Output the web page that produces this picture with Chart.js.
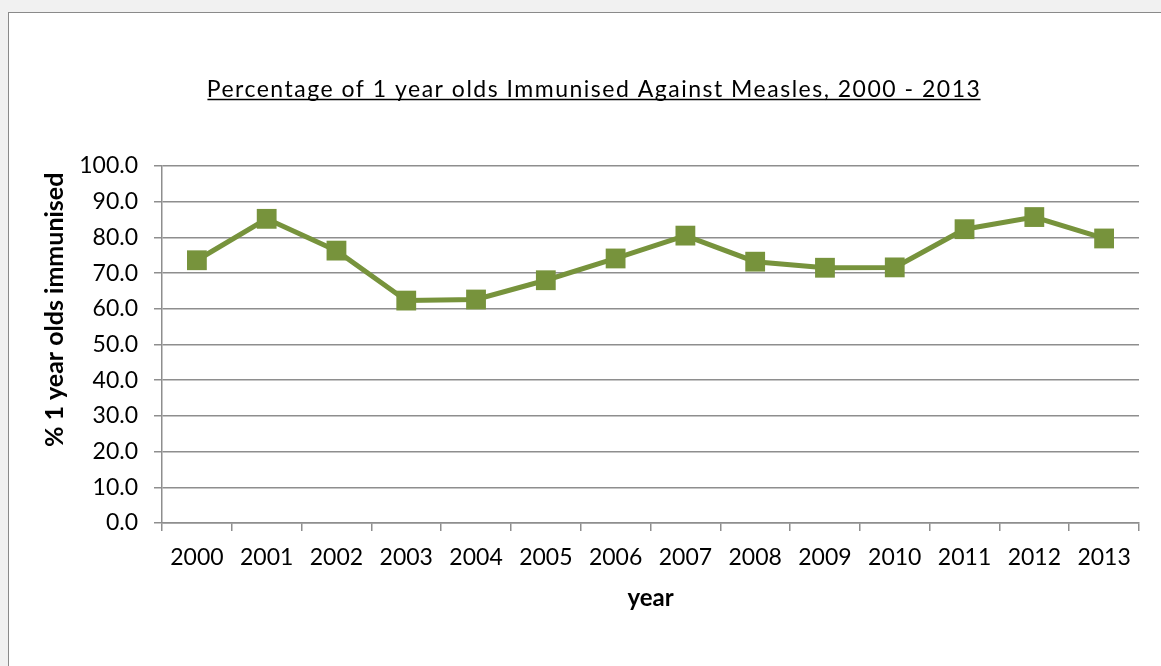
<!DOCTYPE html>
<html>
<head>
<meta charset="utf-8">
<script src="https://cdn.jsdelivr.net/npm/chart.js@4/dist/chart.umd.min.js"></script>
<style>
  html, body { margin: 0; padding: 0; width: 1161px; height: 666px; overflow: hidden; background: #f1f1f1; }
  #card { position: absolute; left: 8px; top: 12px; width: 1200px; height: 700px; background: #fff; border: 1px solid #8a8a8a; box-sizing: border-box; }
  #chart { position: absolute; left: 0; top: 0; }
</style>
</head>
<body>
<div id="card"></div>
<canvas id="chart" width="1188" height="666"></canvas>
<script>
// Measles immunisation coverage among 1 year olds
const years = ['2000', '2001', '2002', '2003', '2004', '2005', '2006', '2007', '2008', '2009', '2010', '2011', '2012', '2013'];
const immunised = [73.6, 85.2, 76.3, 62.3, 62.6, 68.0, 74.1, 80.5, 73.2, 71.5, 71.6, 82.3, 85.7, 79.7];
const chartTitle = 'Percentage of 1 year olds Immunised Against Measles, 2000 - 2013';
const yTitle = '% 1 year olds immunised';
const xTitle = 'year';

const FONT = 'Lato, "Open Sans", sans-serif';
const GREEN = '#77933c';
const GRID = '#8e8e8e';
const TITLE_SPACING = '1.5px';

// Loosely tracked, underlined chart title
const titleStyle = {
  id: 'titleStyle',
  afterLayout(chart) {
    const tb = chart.titleBlock;
    if (!tb || tb._tracked) return;
    const draw = tb.draw;
    tb.draw = function () {
      const ctx = this.ctx;
      const prev = ctx.letterSpacing;
      ctx.letterSpacing = TITLE_SPACING;
      draw.apply(this, arguments);
      ctx.letterSpacing = prev || '0px';
    };
    tb._tracked = true;
  },
  afterDraw(chart) {
    const tb = chart.titleBlock;
    if (!tb) return;
    const opts = chart.options.plugins.title;
    const font = Chart.helpers.toFont(opts.font);
    const pad = Chart.helpers.toPadding(opts.padding);
    const ctx = chart.ctx;
    ctx.save();
    ctx.font = font.string;
    ctx.textBaseline = 'middle';
    ctx.letterSpacing = TITLE_SPACING;
    const w = ctx.measureText(opts.text).width - parseFloat(TITLE_SPACING);
    const base = ctx.measureText('H').actualBoundingBoxDescent;
    const cx = (tb.left + tb.right) / 2;
    const cy = tb.top + pad.top + font.lineHeight / 2;
    const y = Math.round(cy + base + 2) + 0.5;
    ctx.strokeStyle = '#000';
    ctx.lineWidth = 1.4;
    ctx.beginPath();
    ctx.moveTo(cx - w / 2, y);
    ctx.lineTo(cx + w / 2, y);
    ctx.stroke();
    ctx.restore();
  }
};

// Rotated title for the value axis
const yAxisTitle = {
  id: 'yAxisTitle',
  afterDraw(chart, args, opts) {
    const { ctx, chartArea } = chart;
    ctx.save();
    ctx.translate(opts.x, chartArea.top + (chartArea.bottom - chartArea.top) * opts.pos);
    ctx.rotate(-Math.PI / 2);
    ctx.font = Chart.helpers.toFont(opts.font).string;
    ctx.fillStyle = opts.color;
    ctx.textAlign = 'center';
    ctx.textBaseline = 'middle';
    ctx.fillText(opts.text, 0, 0);
    ctx.restore();
  }
};

new Chart(document.getElementById('chart'), {
  type: 'line',
  data: {
    labels: years,
    datasets: [{
      data: immunised,
      borderColor: GREEN,
      backgroundColor: GREEN,
      borderWidth: 5,
      tension: 0,
      pointStyle: 'rect',
      pointRadius: 14,
      pointHoverRadius: 14,
      pointBackgroundColor: GREEN,
      pointBorderColor: GREEN,
      pointBorderWidth: 0
    }]
  },
  options: {
    responsive: false,
    animation: false,
    layout: { padding: { left: 49, right: 49, top: 0, bottom: 0 } },
    plugins: {
      legend: { display: false },
      tooltip: { enabled: false },
      title: {
        display: true,
        text: chartTitle,
        color: '#000',
        font: { family: FONT, size: 23, weight: 'normal', lineHeight: 1.2 },
        padding: { top: 76, bottom: 62.4 }
      },
      yAxisTitle: {
        text: yTitle,
        x: 55,
        pos: 0.403,
        color: '#000',
        font: { family: FONT, size: 25, weight: 'bold' }
      }
    },
    scales: {
      x: {
        offset: true,
        afterFit(scale) { scale.height = 143; },
        grid: {
          offset: true,
          drawOnChartArea: false,
          drawTicks: true,
          tickLength: 8,
          color: GRID,
          lineWidth: 1.5
        },
        border: { display: true, color: GRID, width: 1.5 },
        ticks: {
          color: '#000',
          padding: 13,
          maxRotation: 0,
          autoSkip: false,
          font: { family: FONT, size: 23 }
        },
        title: {
          display: true,
          text: xTitle,
          color: '#000',
          font: { family: FONT, size: 24, weight: 'bold', lineHeight: 1.2 },
          padding: { top: 0, bottom: 53 }
        }
      },
      y: {
        min: 0,
        max: 100,
        afterFit(scale) { scale.width = 113; },
        grid: {
          color: GRID,
          lineWidth: 1.5,
          drawTicks: true,
          tickLength: 8
        },
        border: { display: true, color: GRID, width: 1.5 },
        ticks: {
          stepSize: 10,
          color: '#000',
          padding: 16,
          font: { family: FONT, size: 23 },
          callback: (v) => Number(v).toFixed(1)
        }
      }
    }
  },
  plugins: [titleStyle, yAxisTitle]
});
</script>
</body>
</html>
